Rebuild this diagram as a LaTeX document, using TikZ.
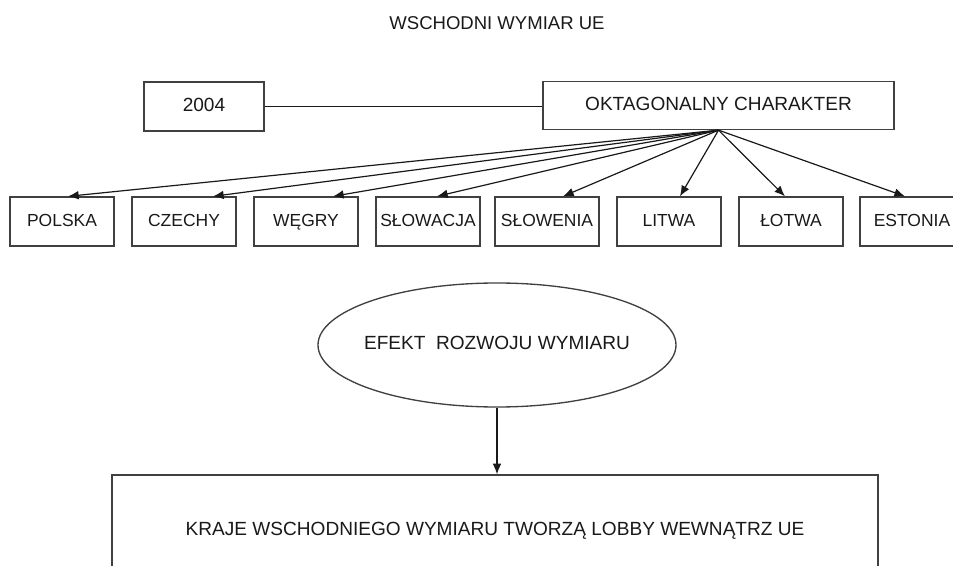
\documentclass[tikz,border=0pt]{standalone}
\usepackage{fontspec}
\setmainfont{Liberation Sans}
\usetikzlibrary{arrows.meta,shapes.geometric}

\begin{document}
\begin{tikzpicture}[x=0.75pt,y=-0.75pt,
        ramka/.style={draw=black!75,line width=1pt,inner sep=0pt,text=black!90,
            text height=0.72em,text depth=0pt,font=\fontsize{14.3}{17}\selectfont},
        krajbox/.style={ramka,minimum width=78pt,minimum height=36.75pt,
            font=\fontsize{13.1}{16}\selectfont},
        strzalka/.style={black!90,line width=0.9pt,-{Latex[length=8pt,width=6.5pt]}}]
        % obszar rysunku
        \useasboundingbox (0,0) rectangle (953,566);

        % tytul
        \node[text=black!90,font=\fontsize{13.9}{16}\selectfont] (tytul) at (497,23) {WSCHODNI WYMIAR UE};

        % gorny rzad
        \node[ramka,minimum width=90pt,minimum height=36.75pt] (rok) at (204,106.5) {2004};
        \node[ramka,minimum width=263.25pt,minimum height=36pt] (okt) at (718.5,105.5) {OKTAGONALNY CHARAKTER};
        \draw[black!90,line width=0.9pt] (rok.east) -- (rok.east -| okt.west);

        % kraje i strzalki
        \foreach \x/\kraj/\dx [count=\i] in {62/POLSKA/6, 184/CZECHY/29, 306/WĘGRY/27,
            428/SŁOWACJA/9, 547/SŁOWENIA/16, 669/LITWA/11, 791/ŁOTWA/-6, 912/ESTONIA/-7}
        {
            \node[krajbox] (k\i) at (\x,221.5) {\kraj};
            \draw[strzalka] (okt.south) -- ([xshift=\dx*0.75pt]k\i.north);
        }

        % efekt
        \node[ramka,ellipse,inner xsep=-5pt,minimum width=268.5pt,minimum height=93pt] (efekt) at (497,345) {EFEKT\ \ ROZWOJU WYMIARU};
        \node[ramka,minimum width=574.5pt,minimum height=84pt] (lobby) at (495,531)
            {KRAJE WSCHODNIEGO WYMIARU TWORZĄ LOBBY WEWNĄTRZ UE};
        \draw[strzalka] (efekt.south) -- (efekt.south |- lobby.north);
    \end{tikzpicture}
\end{document}
